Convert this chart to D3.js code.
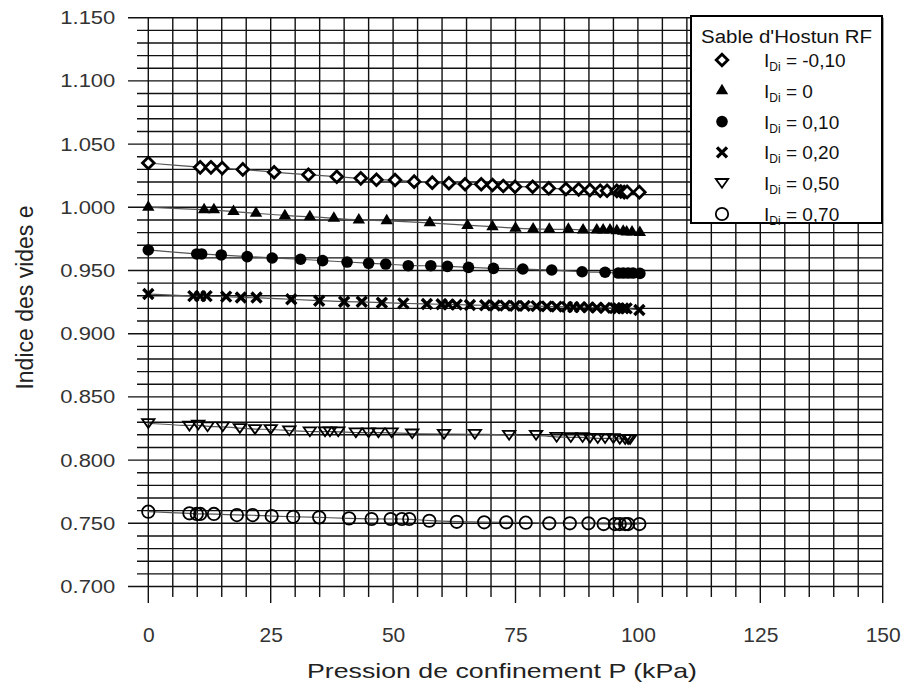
<!DOCTYPE html>
<meta charset="utf-8">
<style>
body { margin: 0; background: #fff; }
text { font-family: "Liberation Sans", Arial, sans-serif; }
.grid line { stroke: #111; stroke-width: 1.4px; }
.fit { fill: none; stroke: #555; stroke-width: 1.2px; }
</style>
<svg width="904" height="685"></svg>
<script src="https://d3js.org/d3.v7.min.js"></script>
<script>

// pressure P (kPa), void ratio e
var sDiamond = [[0,1.035],[10.6,1.0316],[12.8,1.0316],[15.1,1.031],[19.3,1.030],[25.7,1.0277],[32.7,1.0258],[38.5,1.0242],[43.4,1.0229],[46.6,1.0218],[50.4,1.0216],[54.3,1.0203],[58.0,1.0195],[61.4,1.019],[64.7,1.0182],[68.0,1.0182],[70.3,1.0176],[72.5,1.0168],[74.9,1.0163],[78.5,1.0163],[81.8,1.015],[85.3,1.0145],[87.9,1.0142],[90.2,1.0137],[92.3,1.0131],[93.7,1.0131],[95.7,1.013],[96.5,1.0125],[97.2,1.012],[97.8,1.0122],[100.3,1.012]];
var sTriangle = [[0,1.0],[11.4,0.998],[13.4,0.998],[17.4,0.9966],[22.0,0.9953],[27.9,0.9934],[33.0,0.9926],[37.9,0.9913],[43.0,0.990],[48.7,0.9894],[57.5,0.9878],[65.2,0.9857],[70.3,0.9847],[75.0,0.9834],[78.6,0.9828],[81.9,0.9826],[85.8,0.9826],[88.8,0.982],[91.6,0.982],[92.9,0.982],[94.3,0.982],[95.7,0.9815],[97.0,0.981],[97.7,0.9805],[98.8,0.9805],[100.4,0.980]];
var sCircle = [[0,0.9662],[9.9,0.9631],[10.9,0.9631],[14.9,0.9623],[20.2,0.961],[25.3,0.9599],[31.1,0.9589],[35.6,0.9578],[40.6,0.9567],[45.0,0.9557],[48.5,0.9551],[53.1,0.9538],[57.7,0.9538],[61.1,0.9533],[65.4,0.9525],[70.5,0.9517],[76.5,0.9512],[82.4,0.9504],[88.6,0.949],[93.3,0.9486],[96.0,0.948],[97.0,0.948],[98.0,0.948],[99.0,0.948],[100.4,0.9477]];
var sCross = [[0,0.9314],[9.2,0.9297],[10.6,0.9297],[11.9,0.9297],[15.9,0.9293],[18.9,0.9286],[22.1,0.9286],[29.2,0.9272],[34.9,0.9261],[40.0,0.9253],[43.6,0.9253],[47.7,0.9245],[52.1,0.924],[56.9,0.9235],[59.9,0.9233],[61.3,0.9232],[63.0,0.923],[65.7,0.9227],[68.8,0.9225],[70.8,0.9223],[72.9,0.9222],[74.9,0.922],[76.9,0.922],[79.3,0.9218],[81.4,0.9216],[83.4,0.9214],[85.5,0.9212],[86.8,0.921],[88.2,0.921],[89.9,0.9208],[91.6,0.9206],[93.3,0.9204],[95.3,0.9202],[96.0,0.920],[97.0,0.920],[97.7,0.920],[100.3,0.9188]];
var sTriDown = [[0,0.8291],[8.4,0.827],[10.2,0.8278],[12.1,0.8265],[15.2,0.8265],[18.7,0.8252],[21.8,0.8244],[25.0,0.8244],[28.8,0.8233],[33.0,0.8225],[36.1,0.8225],[37.1,0.8225],[38.8,0.8225],[42.4,0.8217],[45.0,0.8217],[47.0,0.8217],[49.7,0.8217],[53.9,0.8209],[60.4,0.8206],[66.7,0.8206],[73.7,0.8198],[79.2,0.8198],[83.4,0.8182],[86.3,0.818],[88.7,0.818],[90.2,0.8175],[91.8,0.8172],[93.3,0.8172],[95.0,0.8172],[96.3,0.8167],[97.4,0.8165],[98.0,0.8165],[98.4,0.8165]];
var sOpenCircle = [[0,0.7592],[8.4,0.7579],[9.9,0.7574],[10.6,0.7574],[13.4,0.7574],[18.1,0.7565],[21.3,0.7565],[25.2,0.7557],[29.6,0.7552],[34.9,0.7547],[41.0,0.7539],[45.6,0.7534],[49.5,0.7534],[51.8,0.7534],[53.3,0.7534],[57.4,0.752],[63.0,0.7512],[68.6,0.7508],[73.1,0.7508],[77.1,0.7505],[81.9,0.750],[86.1,0.750],[89.9,0.750],[93.0,0.7494],[95.3,0.7494],[96.3,0.7494],[97.4,0.7494],[98.0,0.7494],[100.3,0.7494]];

var legendLabels = ["= -0,10", "= 0", "= 0,10", "= 0,20", "= 0,50", "= 0,70"];
var xTicks = [0, 25, 50, 75, 100, 125, 150];
var yTicks = [0.70, 0.75, 0.80, 0.85, 0.90, 0.95, 1.00, 1.05, 1.10, 1.15];

var svg = d3.select("svg");

var x = d3.scaleLinear().domain([0, 150]).range([148.3, 882.7]);
var y = d3.scaleLinear().domain([0.7, 1.15]).range([586.5, 17.7]);

// marker shapes
var markers = [
  function(g) { g.append("path").attr("d", "M0,-5.8L5.8,0L0,5.8L-5.8,0Z").attr("fill", "#fff").attr("stroke", "#000").attr("stroke-width", 2.8); },
  function(g) { g.append("path").attr("d", "M0,-7L6.2,3.5L-6.2,3.5Z").attr("fill", "#000"); },
  function(g) { g.append("circle").attr("r", 5.8).attr("fill", "#000"); },
  function(g) { g.append("path").attr("d", "M-5,-5L5,5M-5,5L5,-5").attr("stroke", "#000").attr("stroke-width", 3.4); },
  function(g) { g.append("path").attr("d", "M-6.2,-4.2L6.2,-4.2L0,4.6Z").attr("fill", "none").attr("stroke", "#000").attr("stroke-width", 1.8); },
  function(g) { g.append("circle").attr("r", 6.2).attr("fill", "none").attr("stroke", "#000").attr("stroke-width", 1.8); }
];
var allSeries = [sDiamond, sTriangle, sCircle, sCross, sTriDown, sOpenCircle];

// grid
var grid = svg.append("g").attr("class", "grid");
var yLines = d3.range(70, 116).map(function(v) { return v / 100; });
grid.selectAll(".h").data(yLines).enter().append("line")
  .attr("x1", function(d, i) { return i % 5 == 0 ? 128 : 137; })
  .attr("x2", x(150))
  .attr("y1", function(d) { return y(d); })
  .attr("y2", function(d) { return y(d); });
var xLines = d3.range(0, 151, 5);
grid.selectAll(".v").data(xLines).enter().append("line")
  .attr("x1", function(d) { return x(d); })
  .attr("x2", function(d) { return x(d); })
  .attr("y1", y(1.15))
  .attr("y2", function(d) { return d % 25 == 0 ? 603 : 597; });

// axis labels
var yAxis = svg.append("g").attr("transform", "translate(" + x(0) + ",0)")
  .call(d3.axisLeft(y).tickValues(yTicks).tickFormat(d3.format(".3f")).tickSize(20).tickPadding(13));
yAxis.select(".domain").remove();
yAxis.selectAll("line").remove();
yAxis.selectAll("text").attr("font-size", 19).attr("font-family", "Liberation Sans, Arial, sans-serif")
  .attr("fill", "#333").attr("textLength", 55).attr("lengthAdjust", "spacingAndGlyphs");

var xAxis = svg.append("g").attr("transform", "translate(0," + y(0.7) + ")")
  .call(d3.axisBottom(x).tickValues(xTicks).tickSize(16.5).tickPadding(24));
xAxis.select(".domain").remove();
xAxis.selectAll("line").remove();
xAxis.selectAll("text").attr("font-size", 21).attr("font-family", "Liberation Sans, Arial, sans-serif").attr("fill", "#333");

svg.append("text")
  .attr("x", 502).attr("y", 678)
  .attr("text-anchor", "middle")
  .attr("font-size", 21).attr("fill", "#222")
  .attr("textLength", 390).attr("lengthAdjust", "spacingAndGlyphs")
  .text("Pression de confinement P (kPa)");

svg.append("text")
  .attr("transform", "translate(33,297.5) rotate(-90)")
  .attr("text-anchor", "middle")
  .attr("font-size", 23).attr("fill", "#222")
  .text("Indice des vides e");

// fitted lines
var line = d3.line()
  .x(function(d) { return x(d[0]); })
  .y(function(d) { return y(d[1]); })
  .curve(d3.curveBasis);

allSeries.forEach(function(s) {
  svg.append("path").attr("class", "fit").attr("d", line(s));
});

// points
allSeries.forEach(function(s, k) {
  svg.append("g").selectAll("g").data(s).enter().append("g")
    .attr("transform", function(d) { return "translate(" + x(d[0]) + "," + y(d[1]) + ")"; })
    .each(function() { markers[k](d3.select(this)); });
});

// legend
var legend = svg.append("g");
legend.append("rect")
  .attr("x", 691).attr("y", 16).attr("width", 191).attr("height", 207)
  .attr("fill", "#fff").attr("stroke", "#000").attr("stroke-width", 2);
legend.append("text")
  .attr("x", 701).attr("y", 43)
  .attr("font-size", 18).attr("fill", "#111")
  .attr("textLength", 171).attr("lengthAdjust", "spacingAndGlyphs")
  .text("Sable d'Hostun RF");

legendLabels.forEach(function(lab, i) {
  var yy = 60 + i * 30.8;
  var g = legend.append("g").attr("transform", "translate(722," + yy + ")");
  markers[i](g);
  var t = legend.append("text").attr("x", 764).attr("y", yy + 7).attr("font-size", 19).attr("fill", "#111");
  t.append("tspan").text("I");
  t.append("tspan").attr("font-size", 12).attr("dy", 4).text("Di");
  t.append("tspan").attr("dy", -4).text(" " + lab);
});

</script>
